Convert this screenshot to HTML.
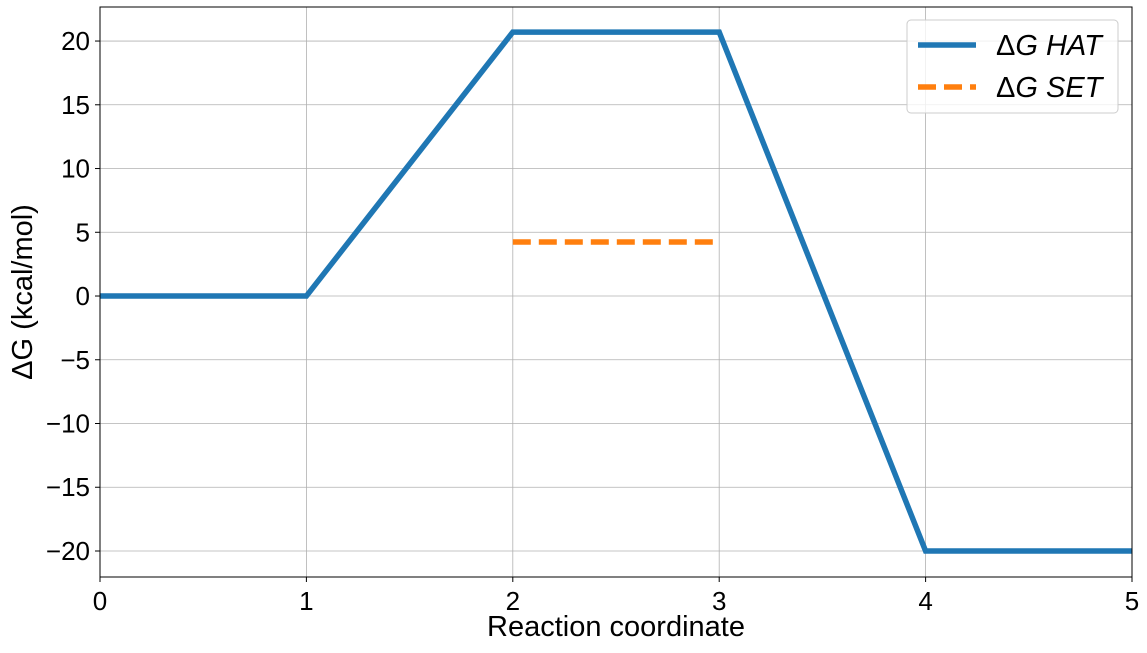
<!DOCTYPE html>
<html><head><meta charset="utf-8"><style>
body{margin:0;background:#fff;}
svg text{font-family:"Liberation Sans","DejaVu Sans",sans-serif;fill:#000;}
</style></head><body>
<svg id="chart" width="1147" height="648" xmlns="http://www.w3.org/2000/svg">
<g id="grid"></g>
<g id="series"></g>
<rect x="100" y="7" width="1032" height="570" fill="none" stroke="#000" stroke-width="1"/>
<g id="ticks"></g>
<text x="616" y="636" font-size="29" text-anchor="middle">Reaction coordinate</text>
<text transform="translate(32,292) rotate(-90)" font-size="29" text-anchor="middle">ΔG (kcal/mol)</text>
<g>
<rect x="907" y="20" width="211" height="93" rx="4" fill="#fff" fill-opacity="0.8" stroke="#ccc"/>
<line x1="918" y1="45" x2="976" y2="45" stroke="#1f77b4" stroke-width="5.5"/>
<text x="996" y="55" font-size="29">Δ<tspan font-style="italic">G HAT</tspan></text>
<line x1="918" y1="87" x2="976" y2="87" stroke="#ff7f0e" stroke-width="5.5" stroke-dasharray="18,8"/>
<text x="996" y="97" font-size="29">Δ<tspan font-style="italic">G SET</tspan></text>
</g>
</svg>
<script>
const hatX=[0,1,2,3,4,5];
const hatY=[0,0,20.7,20.7,-20,-20];
const setX=[2,3];
const setY=[4.24,4.24];
const xTicks=[0,1,2,3,4,5];
const yTicks=[-20,-15,-10,-5,0,5,10,15,20];
const NS="http://www.w3.org/2000/svg";
const X0=100,X1=1132,XMIN=0,XMAX=5;
const Y0=577,Y1=7,YMIN=-22.04,YMAX=22.67;
function sx(v){return X0+(v-XMIN)/(XMAX-XMIN)*(X1-X0);}
function sy(v){return Y0-(v-YMIN)/(YMAX-YMIN)*(Y0-Y1);}
function mk(t,a,p){const e=document.createElementNS(NS,t);for(const k in a)e.setAttribute(k,a[k]);p.appendChild(e);return e;}
const grid=document.getElementById('grid'),ticks=document.getElementById('ticks'),series=document.getElementById('series');
xTicks.forEach(v=>{
 const g=mk('line',{x1:sx(v),x2:sx(v),y1:Y1,y2:Y0,stroke:'#b0b0b0','stroke-width':0.8},grid);
 
 
 const tk=mk('line',{x1:sx(v),x2:sx(v),y1:Y0,y2:Y0+5,stroke:'#000'},ticks);
 
 
 const t=mk('text',{x:sx(v),y:Y0+33,'font-size':26,'text-anchor':'middle'},ticks);
 t.textContent=v;
 
 
});
yTicks.forEach(v=>{
 const g=mk('line',{x1:X0,x2:X1,y1:sy(v),y2:sy(v),stroke:'#b0b0b0','stroke-width':0.8},grid);
 
 
 const tk=mk('line',{x1:X0-5,x2:X0,y1:sy(v),y2:sy(v),stroke:'#000'},ticks);
 
 
 const t=mk('text',{x:X0-10,y:sy(v)+9,'font-size':26,'text-anchor':'end'},ticks);
 t.textContent=v<0?'\u2212'+Math.abs(v):v;
 
 
});
const hat=mk('polyline',{points:hatX.map((x,i)=>sx(x)+','+sy(hatY[i])).join(' '),fill:'none',stroke:'#1f77b4','stroke-width':5.5},series);


const set=mk('polyline',{points:setX.map((x,i)=>sx(x)+','+sy(setY[i])).join(' '),fill:'none',stroke:'#ff7f0e','stroke-width':5.5,'stroke-dasharray':'18,8'},series);


</script>
</body></html>
